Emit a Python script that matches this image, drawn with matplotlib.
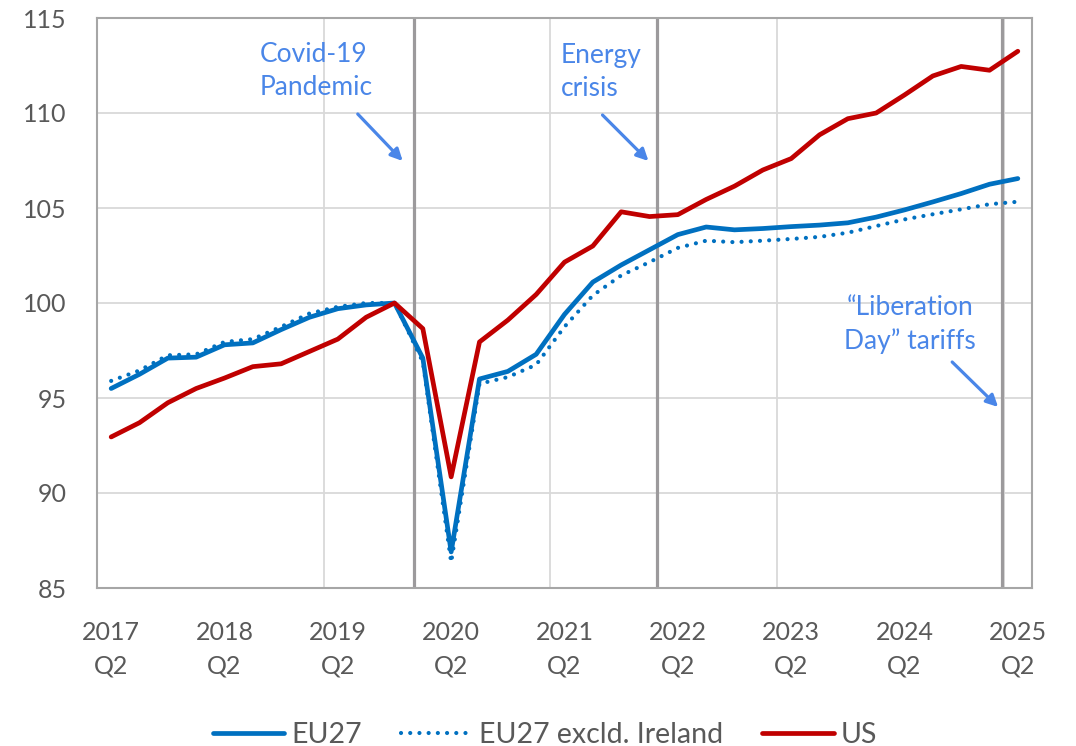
import matplotlib
matplotlib.use("Agg")
import matplotlib.pyplot as plt
import numpy as np

plt.rcParams['font.family'] = ['Lato', 'DejaVu Sans']

quarters = ["2017 Q2", "2017 Q3", "2017 Q4", "2018 Q1", "2018 Q2", "2018 Q3", "2018 Q4", "2019 Q1",
            "2019 Q2", "2019 Q3", "2019 Q4", "2020 Q1", "2020 Q2", "2020 Q3", "2020 Q4", "2021 Q1",
            "2021 Q2", "2021 Q3", "2021 Q4", "2022 Q1", "2022 Q2", "2022 Q3", "2022 Q4", "2023 Q1",
            "2023 Q2", "2023 Q3", "2023 Q4", "2024 Q1", "2024 Q2", "2024 Q3", "2024 Q4", "2025 Q1",
            "2025 Q2"]

eu27 = [95.5, 96.25, 97.1, 97.15, 97.8, 97.9, 98.6, 99.25, 99.7, 99.9, 100.0, 97.1, 86.9,
        96.0, 96.4, 97.3, 99.4, 101.1, 102.0, 102.8, 103.6, 104.0, 103.85, 103.92, 104.02,
        104.1, 104.22, 104.52, 104.9, 105.32, 105.76, 106.25, 106.55]
eu27_ex_ie = [95.9, 96.45, 97.25, 97.3, 97.95, 98.1, 98.75, 99.45, 99.8, 100.0, 100.0, 96.9, 86.35,
              95.75, 96.1, 96.75, 98.75, 100.4, 101.45, 102.15, 102.9, 103.28, 103.2, 103.28, 103.37,
              103.48, 103.7, 104.05, 104.4, 104.67, 104.93, 105.2, 105.33]
us = [92.95, 93.7, 94.75, 95.5, 96.05, 96.65, 96.8, 97.45, 98.1, 99.25, 100.0, 98.65, 90.85,
      97.95, 99.1, 100.45, 102.15, 103.0, 104.8, 104.55, 104.65, 105.45, 106.15, 107.0, 107.6,
      108.85, 109.7, 110.0, 110.95, 111.95, 112.45, 112.25, 113.25]

events = ["Covid-19\nPandemic", "Energy\ncrisis", "\u201cLiberation\nDay\u201d tariffs"]
event_pos = [10.68, 19.25, 31.45]

BLUE = '#0070C0'
RED = '#C00000'
ANN = '#4A86E8'
GRAY_TXT = '#595959'

fig = plt.figure(figsize=(10.76, 7.46), dpi=100)
ax = fig.add_axes([97/1076, 1-588/746, (1032-97)/1076, (588-18)/746])

x = np.arange(len(quarters))

# gridlines
for yv in range(85, 116, 5):
    ax.axhline(yv, color='#D9D9D9', lw=1.3, zorder=0)
for xv in np.arange(-0.5 + 8, len(quarters), 8):
    ax.axvline(xv, color='#D9D9D9', lw=1.3, zorder=0)

# event lines
for p in event_pos:
    ax.axvline(p, color='#9C9A9C', lw=2.3, zorder=1)

ax.plot(x, eu27, color=BLUE, lw=3.4, solid_capstyle='round', solid_joinstyle='round', label='EU27', zorder=3)
ax.plot(x, eu27_ex_ie, color=BLUE, lw=3.0, linestyle=(0, (0.01, 2.2)), dash_capstyle='round',
        label='EU27 excld. Ireland', zorder=3)
ax.plot(x, us, color=RED, lw=3.4, solid_capstyle='round', solid_joinstyle='round', label='US', zorder=4)

ax.set_xlim(-0.5, len(quarters) - 0.5)
ax.set_ylim(85, 115)
ax.set_yticks(range(85, 116, 5))
ax.set_xticks(x[::4])
ax.set_xticklabels([q.replace(' ', '\n') for q in quarters[::4]], linespacing=1.55)
ax.tick_params(axis='both', length=0, labelsize=18, colors=GRAY_TXT)
ax.tick_params(axis='x', pad=24)
ax.tick_params(axis='y', pad=22)
for s in ax.spines.values():
    s.set_color('#A6A6A6')
    s.set_linewidth(1.5)

def px2data(px, py):
    return ((px - 111.2) / 28.36, 115 - (py - 18) / 19.0)

# annotations text
tx, ty = px2data(260, 42)
ax.text(tx, ty, events[0], color=ANN, fontsize=19, ha='left', va='top', linespacing=1.4)
tx, ty = px2data(561, 43)
ax.text(tx, ty, events[1], color=ANN, fontsize=19, ha='left', va='top', linespacing=1.4)
tx, ty = px2data(911, 295)
ax.text(tx, ty, events[2], color=ANN, fontsize=19, ha='center', va='top', linespacing=1.4,
        multialignment='center')

arrows = [((358, 114), (403, 161)), ((603, 115), (649, 161)), ((953, 362), (999, 407))]
for (s, e) in arrows:
    ax.annotate('', xy=px2data(*e), xytext=px2data(*s),
                arrowprops=dict(arrowstyle='-|>,head_length=0.7,head_width=0.35', color=ANN, lw=2.3,
                                shrinkA=0, shrinkB=0), zorder=5)

leg = fig.legend(loc='center', bbox_to_anchor=(545/1076, 1 - 735/746), ncol=3, frameon=False,
                 fontsize=20.5, handlelength=2.5, columnspacing=1.37, handletextpad=0.25, borderpad=0,
                 borderaxespad=0)
for t in leg.get_texts():
    t.set_color(GRAY_TXT)

fig.savefig('out.png', dpi=100)
